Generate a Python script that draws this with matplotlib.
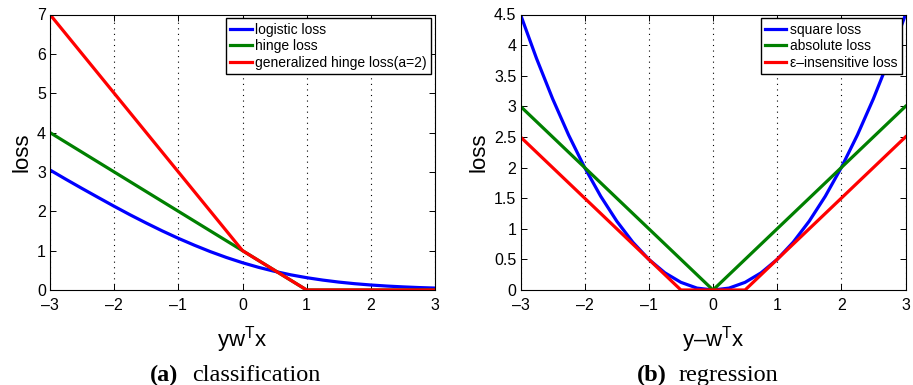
import numpy as np
import matplotlib
matplotlib.use('Agg')
import matplotlib.pyplot as plt

plt.rcParams['font.family'] = ['Liberation Sans', 'DejaVu Sans']
plt.rcParams['mathtext.fontset'] = 'custom'
plt.rcParams['mathtext.rm'] = 'Liberation Sans'
plt.rcParams['mathtext.it'] = 'Liberation Sans'

# (a) classification
z = [-3, -2.75, -2.5, -2.25, -2, -1.75, -1.5, -1.25, -1, -0.75, -0.5, -0.25, 0,
     0.25, 0.5, 0.75, 1, 1.25, 1.5, 1.75, 2, 2.25, 2.5, 2.75, 3]
logistic = [3.049, 2.811, 2.579, 2.352, 2.127, 1.909, 1.701, 1.501, 1.313, 1.138, 0.974, 0.826, 0.693,
            0.576, 0.474, 0.386, 0.313, 0.252, 0.201, 0.160, 0.127, 0.100, 0.079, 0.062, 0.049]
hinge_x = [-3, 1, 3]
hinge_y = [4, 0, 0]
ghinge_x = [-3, 0, 1, 3]
ghinge_y = [7, 1, 0, 0]

# (b) regression
r = [-3, -2.75, -2.5, -2.25, -2, -1.75, -1.5, -1.25, -1, -0.75, -0.5, -0.25, 0,
     0.25, 0.5, 0.75, 1, 1.25, 1.5, 1.75, 2, 2.25, 2.5, 2.75, 3]
square = [4.5, 3.781, 3.125, 2.531, 2.0, 1.531, 1.125, 0.781, 0.5, 0.281, 0.125, 0.031, 0.0,
          0.031, 0.125, 0.281, 0.5, 0.781, 1.125, 1.531, 2.0, 2.531, 3.125, 3.781, 4.5]
abs_x = [-3, 0, 3]
abs_y = [3, 0, 3]
eps_x = [-3, -0.5, 0.5, 3]
eps_y = [2.5, 0, 0, 2.5]

xticks = [-3, -2, -1, 0, 1, 2, 3]

W, H = 913, 385
fig = plt.figure(figsize=(W / 100, H / 100), dpi=100)
ax1 = fig.add_axes([50 / W, 95 / H, 385 / W, 275.5 / H])
ax2 = fig.add_axes([520.5 / W, 95 / H, 385 / W, 275.5 / H])

lw = 2.3
ax1.plot(z, logistic, color=(0, 0, 1), lw=lw, label='logistic loss')
ax1.plot(hinge_x, hinge_y, color=(0, 0.5, 0), lw=lw, label='hinge loss')
ax1.plot(ghinge_x, ghinge_y, color=(1, 0, 0), lw=lw, label='generalized hinge loss(a=2)')
ax1.set_ylim(0, 7)
ax1.set_yticks(range(0, 8))

ax2.plot(r, square, color=(0, 0, 1), lw=lw, label='square loss')
ax2.plot(abs_x, abs_y, color=(0, 0.5, 0), lw=lw, label='absolute loss')
ax2.plot(eps_x, eps_y, color=(1, 0, 0), lw=lw, label='\u03b5\u2013insensitive loss')
ax2.set_ylim(0, 4.5)
ax2.set_yticks(np.arange(0, 4.51, 0.5))
ax2.set_yticklabels(['0', '0.5', '1', '1.5', '2', '2.5', '3', '3.5', '4', '4.5'])

for ax, xl in [(ax1, 'yw$^{\\rm T}$x'), (ax2, 'y\u2013w$^{\\rm T}$x')]:
    ax.set_xlim(-3, 3)
    ax.set_xticks(xticks)
    ax.set_xticklabels(['\u2013' + str(-t) if t < 0 else str(t) for t in xticks])
    ax.xaxis.grid(True, color='black', linestyle=(0, (1, 4)), linewidth=0.8)
    ax.set_axisbelow(True)
    ax.tick_params(direction='in', top=True, right=True, length=4, width=0.7,
                   labelsize=11.5, colors='black')
    ax.tick_params(axis='y', pad=3)
    ax.tick_params(axis='x', pad=5.5)
    for s in ax.spines.values():
        s.set_linewidth(0.8)
    ax.set_xlabel(xl, fontsize=16, labelpad=8)
    ax.set_ylabel('loss', fontsize=16, labelpad=3)
    leg = ax.legend(loc='upper right', fontsize=10, frameon=True, fancybox=False,
                    edgecolor='black', framealpha=1, handlelength=1.55, handletextpad=0.25,
                    borderpad=0.3, labelspacing=0.2, borderaxespad=0.28)
    leg.get_frame().set_linewidth(1.0)

serif = ['Liberation Serif', 'DejaVu Serif']
fig.text(150 / W, 4 / H, '(a)', fontsize=17.5, fontweight='bold', family=serif)
fig.text(192 / W, 4 / H, 'classification', fontsize=17.5, family=serif)
fig.text(637 / W, 4 / H, '(b)', fontsize=17.5, fontweight='bold', family=serif)
fig.text(679 / W, 4 / H, 'regression', fontsize=17.5, family=serif)

fig.savefig('out.png', dpi=100)
